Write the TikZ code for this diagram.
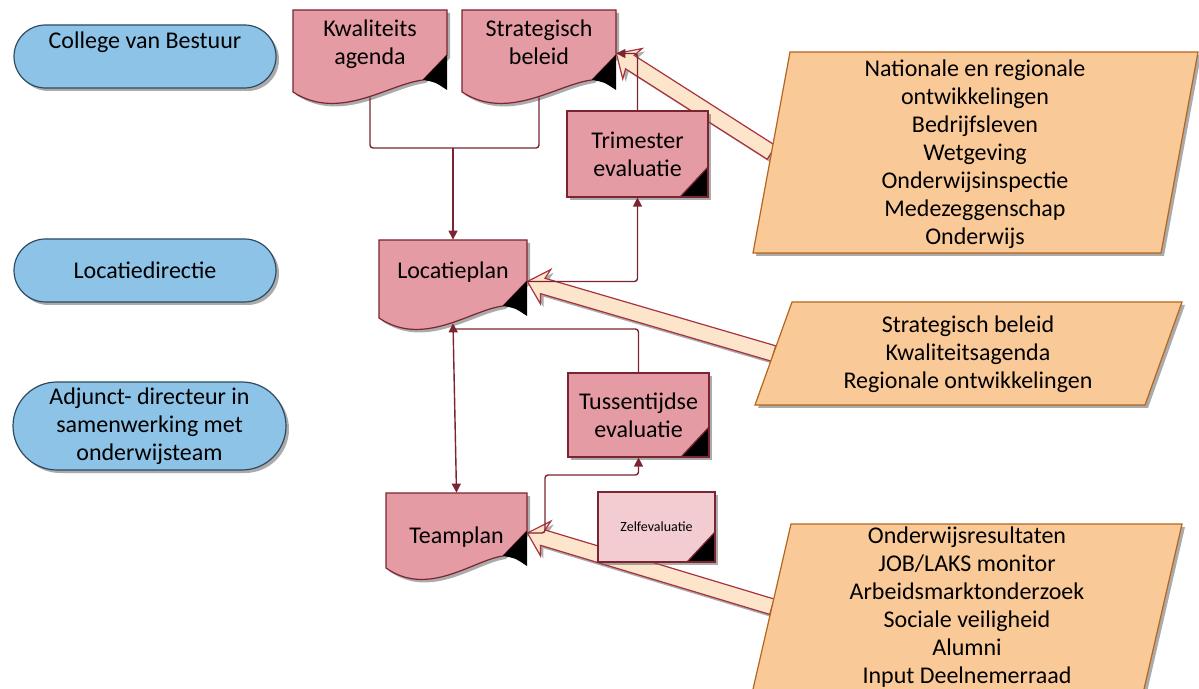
\documentclass[tikz,border=0pt]{standalone}
\usepackage{fontspec}
\setmainfont{Carlito}
\usetikzlibrary{arrows.meta,calc,shapes.misc,shadows}

\definecolor{docpink}{HTML}{E59BA3}
\definecolor{docline}{HTML}{7A2531}
\definecolor{zelfpink}{HTML}{F2CCD1}
\definecolor{lanefill}{HTML}{8DC3E6}
\definecolor{laneline}{HTML}{2E4A62}
\definecolor{parafill}{HTML}{FAC998}
\definecolor{paraline}{HTML}{B5651D}
\definecolor{bigfill}{HTML}{FDE5CB}
\definecolor{bigline}{HTML}{A8323E}

% document shape: name, left, top, width, height of left side, text
\newcommand{\docnode}[6]{%
  \filldraw[docshape] (#2,#3) -- ({#2+#4},#3) -- ({#2+#4},{#3+#5-37})
    -- ({#2+#4-24},{#3+#5-12}) .. controls ({#2+0.62*#4},{#3+#5-8})
    and ({#2+0.3*#4},{#3+#5+30}) .. (#2,{#3+#5}) -- cycle;
  \fill[black] ({#2+#4},{#3+#5-37}) -- ({#2+#4-24},{#3+#5-12})
    .. controls ({#2+#4-12},{#3+#5-10}) .. ({#2+#4},{#3+#5-2}) -- cycle;
  \node[doctext,minimum width={#4*0.5pt},minimum height={(#5+5)*0.5pt}]
    (#1) at ({#2+#4/2},{#3+(#5+5)/2}) {#6};}

% block arrow: tail, tip
\newcommand{\bigarrow}[2]{%
  \coordinate (hw) at ($(#2)!9.5pt!(#1)$);
  \coordinate (hn) at ($(#2)!8pt!(#1)$);
  \filldraw[bigarrow] ($(#1)!4pt!90:(#2)$) -- ($(hn)!4pt!90:(#2)$)
    -- ($(hw)!9pt!90:(#2)$) -- (#2) -- ($(hw)!9pt!-90:(#2)$)
    -- ($(hn)!4pt!-90:(#2)$) -- ($(#1)!4pt!-90:(#2)$) -- cycle;}

\begin{document}
\begin{tikzpicture}
[x=0.5pt,y=-0.5pt,
 font=\fontsize{12}{14}\selectfont,
 >={Triangle[length=4.5pt,width=4.5pt]},
 shadowed/.style={drop shadow={shadow xshift=1.5pt,shadow yshift=-1.5pt,fill=black!60,opacity=.55}},
 lane/.style={rounded rectangle,draw=laneline,fill=lanefill,line width=0.6pt,
   minimum width=135pt,minimum height=31.5pt,align=center,inner sep=2pt,shadowed},
 docshape/.style={draw=docline,fill=docpink,line width=0.6pt,shadowed},
 doctext/.style={rectangle,inner sep=0pt,align=center},
 evalbox/.style={rectangle,draw=docline,fill=docpink,line width=0.6pt,
   minimum width=70.5pt,minimum height=43pt,align=center,inner sep=2pt,shadowed,
   path picture={\fill[black] (path picture bounding box.south east) -- ++(0,15pt)
     -- ++(-14pt,-15pt) -- cycle;
     \draw[docline,line width=0.6pt] (path picture bounding box.south east)
     ++(0,15pt) -- ++(-14pt,-15pt);}},
 para/.style={draw=paraline,fill=parafill,line width=0.6pt,shadowed},
 paratext/.style={align=center,inner sep=0pt},
 bigarrow/.style={draw=bigline,fill=bigfill,line width=0.6pt,line join=miter,shadowed},
 conn/.style={draw=docline,line width=0.7pt,rounded corners=1.5pt}]
\useasboundingbox (0,0) rectangle (1199,689);

\node[lane] (cvb) at (145,56.5) {College van Bestuur\\[2pt]\mbox{}};
\node[lane] (locdir) at (145,270.5) {Locatiedirectie};
\node[lane,minimum width=140.5pt,minimum height=44pt] (adj) at (149.5,426)
  {Adjunct- directeur in\\samenwerking met\\onderwijsteam};

\docnode{kwal}{293}{10}{154}{82}{Kwaliteits\\agenda\\[-3pt]\mbox{}}
\docnode{strat}{462}{10}{154}{82}{Strategisch\\beleid\\[-3pt]\mbox{}}
\docnode{locplan}{379}{240}{148}{78}{Locatieplan\\[-3pt]\mbox{}}
\docnode{teamplan}{386}{493}{141}{75}{\mbox{}\\[-1.5pt]Teamplan}

\coordinate (p1tl) at (790,52);  \coordinate (p1bl) at (753,253);
\coordinate (p2tl) at (792,302); \coordinate (p2bl) at (755,405);
\coordinate (p3tl) at (791,524); \coordinate (p3bl) at (750.5,700);
\coordinate (natin) at ($(p1tl)!0.5!(p1bl)$);
\coordinate (stratin) at ($(p2tl)!0.5!(p2bl)$);
\coordinate (resin) at ($(p3tl)!0.47!(p3bl)$);

\bigarrow{natin}{strat.east}
\bigarrow{stratin}{locplan.east}
\bigarrow{resin}{teamplan.east}

\filldraw[para] (p1tl) -- (1198,52) -- (1161,253) -- (p1bl) -- cycle;
\filldraw[para] (p2tl) -- (1182,302) -- (1145,405) -- (p2bl) -- cycle;
\filldraw[para] (p3tl) -- (1182,524) -- (1141.5,700) -- (p3bl) -- cycle;

\node[paratext] (nat) at (975,154) {Nationale en regionale\\ontwikkelingen\\Bedrijfsleven\\Wetgeving\\Onderwijsinspectie\\Medezeggenschap\\Onderwijs};
\node[paratext] (bel) at (968,354) {Strategisch beleid\\Kwaliteitsagenda\\Regionale ontwikkelingen};
\node[paratext] (res) at (967,607) {Onderwijsresultaten\\JOB/LAKS monitor\\Arbeidsmarktonderzoek\\Sociale veiligheid\\Alumni\\Input Deelnemerraad};

\node[evalbox] (trim) at (637.5,154) {Trimester\\evaluatie};
\node[evalbox,minimum height=42pt] (tussen) at (638.5,415) {Tussentijdse\\evaluatie};
\node[evalbox,fill=zelfpink,minimum width=58.5pt,minimum height=35pt,
  font=\fontsize{7}{8}\selectfont] (zelf) at (656.5,527) {Zelfevaluatie};

\coordinate (merge) at (453,148);
\draw[conn] (kwal.south) |- (merge);
\draw[conn] (strat.south) |- (merge);
\draw[conn,->] (merge) -- (locplan.north);
\draw[conn,->] (locplan.east) -| (trim.south);
\draw[conn,->] (trim.north) |- (strat.east);
\coordinate (locjoin) at (453.5,329);
\draw[conn] (tussen.north) |- (locjoin);
\draw[conn,<->] (locplan.south) -- (teamplan.north);
\coordinate (teambend) at (545,475);
\draw[conn,->] (teamplan.east) -| (teambend) -| (tussen.south);
\end{tikzpicture}
\end{document}
